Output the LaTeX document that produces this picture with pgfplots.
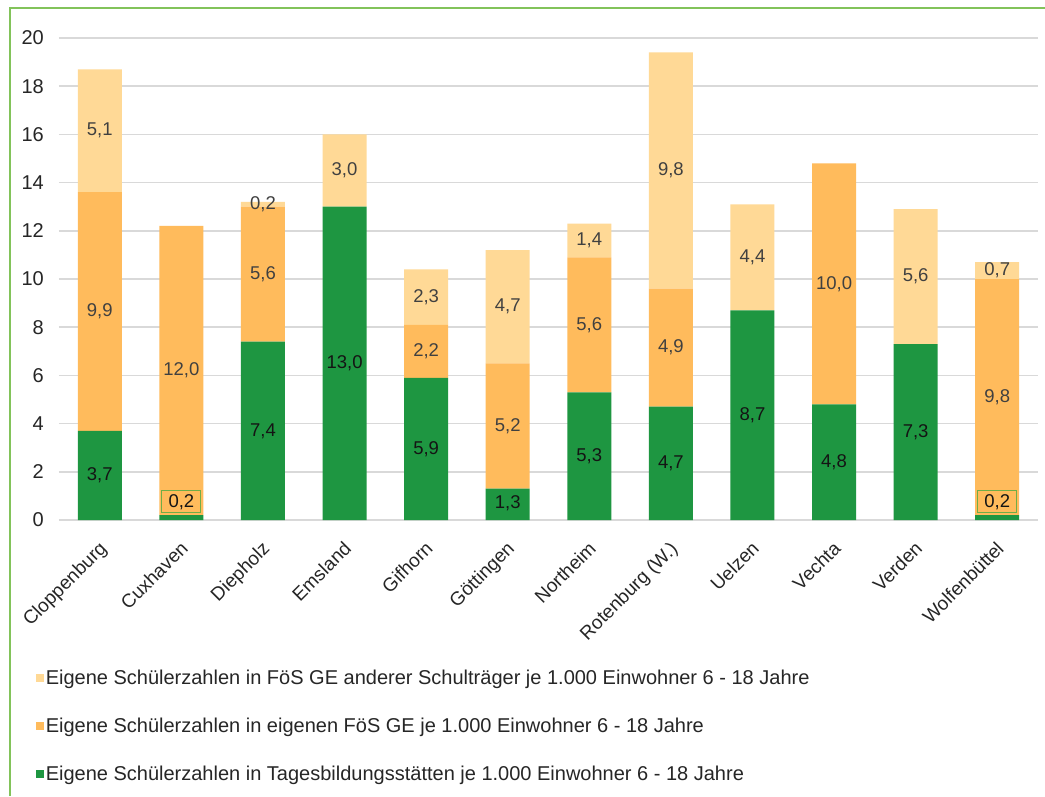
\documentclass[border=0pt]{standalone}
\usepackage{fontspec}
\setmainfont{Liberation Sans}
\usepackage{pgfplots}
\pgfplotsset{compat=1.18}
\usepackage{pgfplotstable}

\definecolor{lightor}{RGB}{255,217,150}
\definecolor{midor}{RGB}{255,187,92}
\definecolor{grn}{RGB}{30,150,65}
\definecolor{gridc}{RGB}{217,217,217}
\definecolor{framec}{RGB}{130,195,90}
\definecolor{boxc}{RGB}{112,173,71}
\definecolor{lbl}{RGB}{64,64,64}
\definecolor{lblg}{RGB}{20,20,20}

\pgfplotstableread{
x g o l
0 3.7 9.9 5.1
1 0.2 12.0 0
2 7.4 5.6 0.2
3 13.0 0 3.0
4 5.9 2.2 2.3
5 1.3 5.2 4.7
6 5.3 5.6 1.4
7 4.7 4.9 9.8
8 8.7 0 4.4
9 4.8 10.0 0
10 7.3 0 5.6
11 0.2 9.8 0.7
}\datatab

\pgfplotstableread{
x y t
0 1.85 3,7
2 3.7 7,4
3 6.5 13,0
4 2.95 5,9
5 0.7 1,3
6 2.65 5,3
7 2.35 4,7
8 4.35 8,7
9 2.4 4,8
10 3.65 7,3
}\glabels

\pgfplotstableread{
x y t
0 8.65 9,9
0 16.15 5,1
1 6.2 12,0
2 10.2 5,6
2 13.1 0,2
3 14.5 3,0
4 7.0 2,2
4 9.25 2,3
5 3.9 5,2
5 8.85 4,7
6 8.1 5,6
6 11.6 1,4
7 7.15 4,9
7 14.5 9,8
8 10.9 4,4
9 9.8 10,0
10 10.1 5,6
11 5.1 9,8
11 10.35 0,7
}\olabels

\pgfplotstableread{
x y t
1 0.75 0,2
11 0.75 0,2
}\blabels

\pgfplotsset{
  base/.style={
    scale only axis, width=979pt, height=482pt,
    xmin=-0.5, xmax=11.5, ymin=0, ymax=20,
    at={(59pt,276pt)}, anchor=south west,
  },
  sq legend/.style={legend image code/.code={\fill[##1] (0pt,-4pt) rectangle (8pt,4pt);}},
}

\begin{document}
\begin{tikzpicture}[x=1pt,y=1pt]
\useasboundingbox (0,0) rectangle (1045,796);
\fill[white] (0,0) rectangle (1045,796);
\draw[framec, line width=2pt] (10,0) -- (10,788) -- (1045,788);

\begin{axis}[base,
  ybar stacked, bar width=44pt,
  axis line style={draw=none},
  major tick length=0pt,
  ymajorgrids, grid style={gridc, line width=1.5pt},
  ytick={0,2,...,20},
  xtick={0,...,11},
  xticklabels={Cloppenburg,Cuxhaven,Diepholz,Emsland,Gifhorn,Göttingen,Northeim,Rotenburg (W.),Uelzen,Vechta,Verden,Wolfenbüttel},
  /pgf/number format/assume math mode=true,
  yticklabel style={font=\fontsize{20}{24}\selectfont, text=black!85, inner sep=0pt, xshift=-15pt},
  xticklabel style={xshift=-2pt, yshift=-20pt, font=\fontsize{19}{22}\selectfont, text=black!85, rotate=45, anchor=north east, inner sep=0pt},
  legend style={at={(axis description cs:-0.027,-0.303)}, anchor=north west, draw=none, fill=none,
    font=\fontsize{20}{23}\selectfont, row sep=28pt, text=black!85},
  legend cell align=left,
  reverse legend,
]
\addplot[fill=grn, draw=none, sq legend] table[x=x,y=g] {\datatab};
\addlegendentry{Eigene Schülerzahlen in Tagesbildungsstätten je 1.000 Einwohner 6 - 18 Jahre}
\addplot[fill=midor, draw=none, sq legend] table[x=x,y=o] {\datatab};
\addlegendentry{Eigene Schülerzahlen in eigenen FöS GE je 1.000 Einwohner 6 - 18 Jahre}
\addplot[fill=lightor, draw=none, sq legend] table[x=x,y=l] {\datatab};
\addlegendentry{Eigene Schülerzahlen in FöS GE anderer Schulträger je 1.000 Einwohner 6 - 18 Jahre}
\end{axis}

\begin{axis}[base, hide axis]
\addplot[draw=none, nodes near coords, point meta=explicit symbolic,
  every node near coord/.append style={anchor=center, text=lblg, font=\fontsize{18.5}{21}\selectfont}]
  table[x=x,y=y,meta=t] {\glabels};
\addplot[draw=none, nodes near coords, point meta=explicit symbolic,
  every node near coord/.append style={anchor=center, text=lbl, font=\fontsize{18.5}{21}\selectfont}]
  table[x=x,y=y,meta=t] {\olabels};
\addplot[draw=none, nodes near coords, point meta=explicit symbolic,
  every node near coord/.append style={anchor=center, text=lblg, font=\fontsize{18.5}{21}\selectfont,
    draw=boxc, line width=1pt, minimum width=39pt, minimum height=22pt, inner sep=1pt}]
  table[x=x,y=y,meta=t] {\blabels};
\end{axis}
\end{tikzpicture}
\end{document}
